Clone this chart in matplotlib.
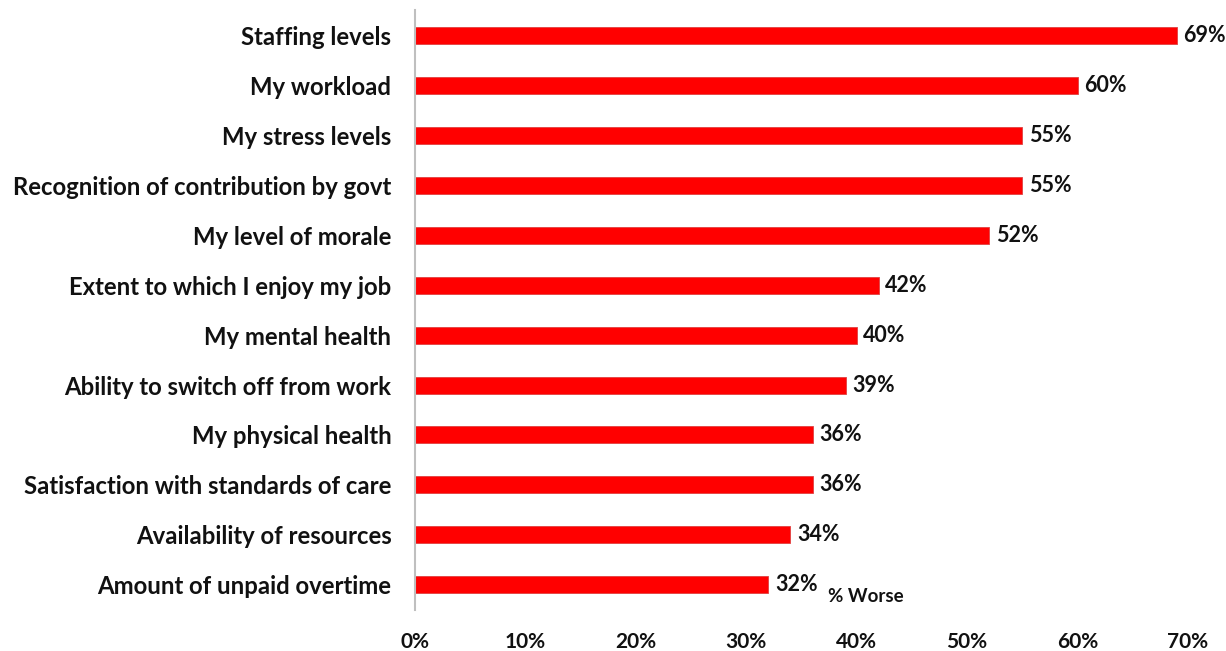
import matplotlib
matplotlib.use("Agg")
import matplotlib.pyplot as plt
from matplotlib.ticker import PercentFormatter

categories = [
    "Staffing levels",
    "My workload",
    "My stress levels",
    "Recognition of contribution by govt",
    "My level of morale",
    "Extent to which I enjoy my job",
    "My mental health",
    "Ability to switch off from work",
    "My physical health",
    "Satisfaction with standards of care",
    "Availability of resources",
    "Amount of unpaid overtime",
]
worse_pct = [69, 60, 55, 55, 52, 42, 40, 39, 36, 36, 34, 32]
x_ticks = [0, 10, 20, 30, 40, 50, 60, 70]

plt.rcParams["font.family"] = ["Lato", "DejaVu Sans"]

fig = plt.figure(figsize=(12.26, 6.51), dpi=100)
ax = fig.add_axes([0.3385, 0.063, 0.6305, 0.9216])

y = list(range(len(categories)))[::-1]
bars = ax.barh(y, worse_pct, height=0.34, color="#ff0000",
               edgecolor="#e04040", linewidth=0.6)

for yi, v in zip(y, worse_pct):
    ax.text(v + 0.6, yi, f"{v}%", va="center", ha="left",
            fontsize=15.5, fontweight="bold", color="#111111")

ax.set_xlim(0, 70)
ax.set_ylim(-0.5, len(categories) - 0.5)
ax.set_yticks(y)
ax.set_yticklabels(categories, fontsize=17.2, fontweight="bold", color="#111111")
ax.set_xticks(x_ticks)
ax.xaxis.set_major_formatter(PercentFormatter(decimals=0))
for lbl in ax.get_xticklabels():
    lbl.set_fontweight("bold")
    lbl.set_fontsize(15)
    lbl.set_color("#111111")

ax.tick_params(axis="both", length=0)
ax.tick_params(axis="y", pad=17)
ax.tick_params(axis="x", pad=16)
for side in ("top", "right", "bottom"):
    ax.spines[side].set_visible(False)
ax.spines["left"].set_color("#bfbfbf")
ax.spines["left"].set_linewidth(1.5)

ax.text(40.8, -0.24, "% Worse", ha="center", va="center",
        fontsize=13.5, fontweight="bold", color="#111111")

fig.savefig("out.png", dpi=100, facecolor="white")
